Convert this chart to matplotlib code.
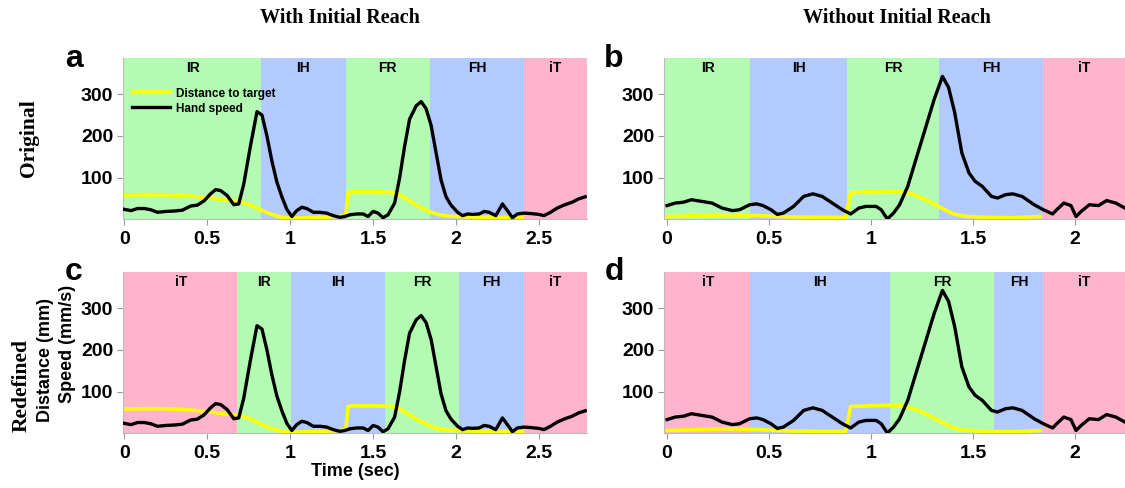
import matplotlib
matplotlib.use("Agg")
import matplotlib.pyplot as plt
import matplotlib.transforms as mtransforms

# ---------------- data ----------------
# With initial reach (panels a, c)
t_speed_w = [0.00, 0.04, 0.08, 0.12, 0.16, 0.20, 0.25, 0.30, 0.35, 0.40, 0.44, 0.48,
             0.52, 0.55, 0.58, 0.62, 0.66, 0.69, 0.72, 0.76, 0.80, 0.83, 0.86, 0.89,
             0.92, 0.95, 0.98, 1.01, 1.04, 1.07, 1.10, 1.14, 1.18, 1.22, 1.26, 1.30,
             1.33, 1.36, 1.40, 1.44, 1.47, 1.50, 1.53, 1.56, 1.59, 1.63, 1.66, 1.69,
             1.72, 1.76, 1.79, 1.82, 1.85, 1.88, 1.91, 1.94, 1.97, 2.01, 2.04, 2.07,
             2.10, 2.14, 2.17, 2.20, 2.24, 2.28, 2.31, 2.34, 2.37, 2.41, 2.45, 2.50,
             2.53, 2.57, 2.61, 2.65, 2.70, 2.74, 2.78]
speed_w = [25, 22, 27, 27, 24, 18, 20, 21, 23, 33, 35, 45,
           62, 72, 70, 58, 36, 38, 85, 175, 258, 250, 200, 140,
           90, 55, 25, 8, 22, 30, 27, 18, 18, 16, 10, 6,
           8, 12, 14, 14, 8, 20, 16, 5, 12, 40, 100, 175,
           240, 272, 282, 265, 225, 160, 95, 55, 35, 18, 10, 14,
           13, 14, 20, 18, 10, 38, 22, 5, 14, 16, 15, 13,
           10, 18, 28, 35, 42, 50, 55]
t_dist_w = [0.00, 0.10, 0.20, 0.30, 0.40, 0.50, 0.60, 0.68, 0.73, 0.78, 0.83, 0.88,
            0.94, 1.00, 1.10, 1.20, 1.30, 1.335, 1.35, 1.40, 1.50, 1.60, 1.65, 1.70,
            1.75, 1.80, 1.85, 1.90, 1.95, 2.05, 2.20, 2.40]
dist_w = [59, 60, 60, 59, 57, 53, 48, 45, 40, 32, 22, 14,
          7, 4, 5, 6, 8, 10, 66, 67, 67, 66, 62, 50,
          38, 27, 18, 12, 9, 7, 6, 6]

# Without initial reach (panels b, d)
t_speed_wo = [0.00, 0.04, 0.08, 0.12, 0.17, 0.22, 0.27, 0.32, 0.355, 0.405, 0.44, 0.47,
              0.51, 0.54, 0.57, 0.62, 0.67, 0.715, 0.76, 0.81, 0.86, 0.90, 0.94, 0.975,
              1.025, 1.05, 1.08, 1.11, 1.14, 1.18, 1.225, 1.27, 1.31, 1.35, 1.38, 1.41,
              1.445, 1.48, 1.51, 1.545, 1.59, 1.62, 1.66, 1.695, 1.74, 1.80, 1.845, 1.89,
              1.91, 1.945, 1.98, 2.005, 2.03, 2.07, 2.115, 2.155, 2.20, 2.245]
speed_wo = [34, 40, 42, 48, 44, 40, 28, 22, 24, 36, 38, 34,
            24, 13, 16, 32, 56, 62, 56, 40, 24, 14, 28, 32,
            32, 24, 2, 16, 36, 80, 152, 224, 288, 342, 316, 256,
            160, 112, 92, 80, 56, 52, 60, 62, 56, 36, 24, 14,
            24, 40, 34, 8, 20, 36, 34, 46, 40, 28]
t_dist_wo = [0.00, 0.15, 0.30, 0.45, 0.60, 0.75, 0.875, 0.90, 1.00, 1.10, 1.15, 1.20,
             1.25, 1.30, 1.35, 1.40, 1.45, 1.55, 1.70, 1.83]
dist_wo = [8, 10, 12, 10, 7, 6, 6, 65, 67, 68, 67, 62,
           52, 40, 27, 15, 9, 6, 5, 8]

# phase segments
phases_a = ["IR", "IH", "FR", "FH", "iT"]
bounds_a = [0.0, 0.825, 1.335, 1.843, 2.41, 2.79]
phases_b = ["IR", "IH", "FR", "FH", "iT"]
bounds_b = [0.0, 0.405, 0.884, 1.334, 1.845, 2.25]
phases_c = ["iT", "IR", "IH", "FR", "FH", "iT"]
bounds_c = [0.0, 0.679, 1.007, 1.572, 2.018, 2.41, 2.79]
phases_d = ["iT", "IH", "FR", "FH", "iT"]
bounds_d = [0.0, 0.405, 1.093, 1.605, 1.845, 2.25]

xticks_w = [0, 0.5, 1, 1.5, 2, 2.5]
xticks_wo = [0, 0.5, 1, 1.5, 2]
xticklabels_w = ["0", "0.5", "1", "1.5", "2", "2.5"]
xticklabels_wo = ["0", "0.5", "1", "1.5", "2"]
yticks = [100, 200, 300]

col_titles = ["With Initial Reach", "Without Initial Reach"]
row_titles = ["Original", "Redefined"]
legend_labels = ["Distance to target", "Hand speed"]

# ---------------- style ----------------
phase_colors = {"IR": "#b3fbb3", "FR": "#b3fbb3", "IH": "#b3caff", "FH": "#b3caff",
                "iT": "#ffb3cc"}
SANS = ["Liberation Sans", "DejaVu Sans"]
SERIF = ["Liberation Serif", "DejaVu Serif"]

fig = plt.figure(figsize=(11.25, 4.88), dpi=100)

W, H = 1125.0, 488.0
def rect(l, r, t, b):
    return [l / W, 1 - b / H, (r - l) / W, (b - t) / H]

ax_a = fig.add_axes(rect(123, 587, 58, 219))
ax_b = fig.add_axes(rect(664, 1125, 58, 219))
ax_c = fig.add_axes(rect(123, 587, 272, 433))
ax_d = fig.add_axes(rect(664, 1125, 272, 433))

panels = [
    (ax_a, phases_a, bounds_a, t_speed_w, speed_w, t_dist_w, dist_w, (-0.008, 2.79), xticks_w, xticklabels_w),
    (ax_b, phases_b, bounds_b, t_speed_wo, speed_wo, t_dist_wo, dist_wo, (-0.015, 2.245), xticks_wo, xticklabels_wo),
    (ax_c, phases_c, bounds_c, t_speed_w, speed_w, t_dist_w, dist_w, (-0.008, 2.79), xticks_w, xticklabels_w),
    (ax_d, phases_d, bounds_d, t_speed_wo, speed_wo, t_dist_wo, dist_wo, (-0.015, 2.245), xticks_wo, xticklabels_wo),
]

for ax, phases, bounds, ts, sp, td, dd, xl, xt, xtl in panels:
    ax.set_xlim(*xl)
    ax.set_ylim(2, 386)
    trans = mtransforms.blended_transform_factory(ax.transData, ax.transAxes)
    for i, ph in enumerate(phases):
        x0 = bounds[i] if i > 0 else xl[0]
        x1 = bounds[i + 1]
        ax.axvspan(x0, x1, color=phase_colors[ph], lw=0, zorder=0)
        ax.text((max(x0, 0) + min(x1, xl[1])) / 2, 0.935, ph, transform=trans,
                ha="center", va="center", fontsize=10, fontweight="bold",
                family=SANS)
    l1, = ax.plot(td, dd, color="#ffff00", lw=2.6, zorder=2, solid_joinstyle="round")
    l2, = ax.plot(ts, sp, color="black", lw=2.4, zorder=3, solid_joinstyle="round")
    ax.set_xticks(xt)
    ax.set_xticklabels(xtl)
    ax.set_yticks(yticks)
    for lab in ax.get_xticklabels() + ax.get_yticklabels():
        lab.set_fontweight("bold")
        lab.set_fontsize(14)
        lab.set_family(SANS)
    ax.tick_params(axis="both", direction="out", length=4, width=0.8,
                   color="#999999", pad=3)
    ax.tick_params(axis="x", pad=5)
    for s in ["top", "right"]:
        ax.spines[s].set_visible(False)
    for s in ["left", "bottom"]:
        ax.spines[s].set_color("#bbbbbb")
        ax.spines[s].set_linewidth(0.8)
    if ax is ax_a:
        ax.legend([l1, l2], legend_labels, loc="upper left",
                  bbox_to_anchor=(0.005, 0.86), frameon=False,
                  prop={"family": SANS, "weight": "bold", "size": 8.5},
                  handlelength=3.2, handletextpad=0.5, labelspacing=0.25,
                  borderaxespad=0.2)

# panel letters
for letter, (x, y) in zip(["a", "b", "c", "d"], [(74, 59), (614, 59), (74, 272), (614, 272)]):
    fig.text(x / W, 1 - y / H, letter, fontsize=23, fontweight="bold",
             family=SANS, ha="center", va="center")

# column titles
fig.text(340 / W, 1 - 18 / H, col_titles[0], fontsize=14.5, fontweight="bold",
         family=SERIF, ha="center", va="center")
fig.text(897 / W, 1 - 18 / H, col_titles[1], fontsize=14.5, fontweight="bold",
         family=SERIF, ha="center", va="center")

# row titles
fig.text(29 / W, 1 - 138 / H, row_titles[0], fontsize=15.5, fontweight="bold",
         family=SERIF, ha="center", va="center", rotation=90)
fig.text(22 / W, 1 - 385 / H, row_titles[1], fontsize=15.5, fontweight="bold",
         family=SERIF, ha="center", va="center", rotation=90)
fig.text(45 / W, 1 - 360 / H, "Distance (mm)", fontsize=13, fontweight="bold",
         family=SANS, ha="center", va="center", rotation=90)
fig.text(67 / W, 1 - 344 / H, "Speed (mm/s)", fontsize=13, fontweight="bold",
         family=SANS, ha="center", va="center", rotation=90)

# x label
fig.text(355 / W, 1 - 471 / H, "Time (sec)", fontsize=13, fontweight="bold",
         family=SANS, ha="center", va="center")

fig.savefig("out.png", dpi=100)
